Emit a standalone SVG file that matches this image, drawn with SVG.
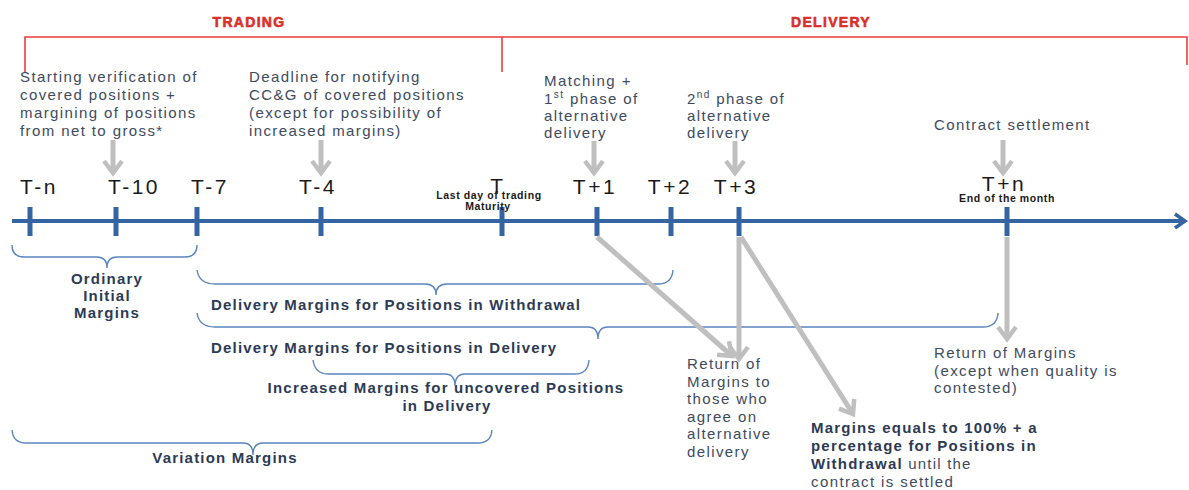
<svg xmlns="http://www.w3.org/2000/svg" width="1189" height="490" viewBox="0 0 1189 490">
<defs>
<style>
.red{stroke:#e8403c;stroke-width:1.6;fill:none}
.phase{font-family:"Liberation Sans",Arial,sans-serif;font-weight:bold;font-size:14px;fill:#d9302a;stroke:#d9302a;stroke-width:0.6;letter-spacing:1.3px;text-anchor:middle}
.body{font-family:"Liberation Sans",Arial,sans-serif;font-size:15px;fill:#3e4a5e;letter-spacing:1.4px}
.bold{font-family:"Liberation Sans",Arial,sans-serif;font-size:15px;font-weight:bold;fill:#2c3a55;letter-spacing:1.2px}
.tick{font-family:"Liberation Sans",Arial,sans-serif;font-size:21px;fill:#1a1a1a;letter-spacing:2.5px;text-anchor:middle}
.small{font-family:"Liberation Sans",Arial,sans-serif;font-size:10.5px;font-weight:bold;fill:#1a1a1a;letter-spacing:0.6px;text-anchor:middle}
.axis{stroke:#3464a2;stroke-width:4;fill:none}
.tk{stroke:#3464a2;stroke-width:5}
.gray{stroke:#bfbfbf;stroke-width:5;fill:none;marker-end:url(#chev)}
.brace{stroke:#5b84bf;stroke-width:1.4;fill:none}
.mid{text-anchor:middle}
</style>
<marker id="chev" viewBox="0 0 22 22" markerUnits="userSpaceOnUse" markerWidth="22" markerHeight="22" refX="18" refY="11" orient="auto">
<path d="M6,2 L18,11 L6,20" fill="none" stroke="#bfbfbf" stroke-width="4.5"/>
</marker>
<marker id="axhead" viewBox="0 0 20 20" markerUnits="userSpaceOnUse" markerWidth="20" markerHeight="20" refX="17" refY="10" orient="auto">
<path d="M7,3 L17,10 L7,17" fill="none" stroke="#3464a2" stroke-width="3.5"/>
</marker>
</defs>

<g id="phases">
<path class="red" d="M25,72 V37 H1187 V65 M502,37 V72"/>
<text class="phase" x="249" y="27">TRADING</text>
<text class="phase" x="831" y="27">DELIVERY</text>
</g>

<g id="timeline">
<path class="axis" d="M12,221 H1185" marker-end="url(#axhead)"/>
<path class="tk" d="M30,207 V236 M116,207 V236 M197,207 V236 M321,207 V236 M502,207 V236 M597,207 V236 M671,207 V236 M739,207 V236 M1007,207 V236"/>
</g>

<g id="tick-labels">
<text class="tick" x="39" y="194">T-n</text>
<text class="tick" x="134" y="194">T-10</text>
<text class="tick" x="210" y="194">T-7</text>
<text class="tick" x="318" y="194">T-4</text>
<text class="tick" x="498" y="193">T</text>
<text class="tick" x="595" y="194">T+1</text>
<text class="tick" x="670" y="194">T+2</text>
<text class="tick" x="736" y="194">T+3</text>
<text class="tick" x="1004" y="191">T+n</text>
<text class="small" x="489" y="199">Last day of trading</text>
<text class="small" x="488" y="210">Maturity</text>
<text class="small" x="1007" y="202">End of the month</text>
</g>

<g id="node-start">
<text class="body" x="20" y="82">Starting verification of</text>
<text class="body" x="20" y="100">covered positions +</text>
<text class="body" x="20" y="118">margining of positions</text>
<text class="body" x="20" y="136">from net to gross*</text>
</g>
<g id="node-deadline">
<text class="body" x="249" y="82">Deadline for notifying</text>
<text class="body" x="249" y="100">CC&amp;G of covered positions</text>
<text class="body" x="249" y="118">(except for possibility of</text>
<text class="body" x="249" y="136">increased margins)</text>
</g>
<g id="node-matching">
<text class="body" x="544" y="86">Matching +</text>
<text class="body" x="544" y="104">1<tspan font-size="10" dy="-6">st</tspan><tspan dy="6"> phase of</tspan></text>
<text class="body" x="544" y="121">alternative</text>
<text class="body" x="544" y="138">delivery</text>
</g>
<g id="node-phase2">
<text class="body" x="687" y="104">2<tspan font-size="10" dy="-6">nd</tspan><tspan dy="6"> phase of</tspan></text>
<text class="body" x="687" y="121">alternative</text>
<text class="body" x="687" y="138">delivery</text>
</g>
<g id="node-settlement">
<text class="body" x="934" y="130">Contract settlement</text>
</g>

<g id="node-ordinary">
<text class="bold mid" x="107" y="284">Ordinary</text>
<text class="bold mid" x="107" y="301">Initial</text>
<text class="bold mid" x="107" y="318">Margins</text>
</g>
<g id="node-withdrawal">
<text class="bold" x="211" y="310">Delivery Margins for Positions in Withdrawal</text>
</g>
<g id="node-delivery">
<text class="bold" x="211" y="353">Delivery Margins for Positions in Delivery</text>
</g>
<g id="node-increased">
<text class="bold mid" x="446" y="393">Increased Margins for uncovered Positions</text>
<text class="bold mid" x="447" y="411">in Delivery</text>
</g>
<g id="node-variation">
<text class="bold mid" x="225" y="463">Variation Margins</text>
</g>

<g id="node-return-alt">
<text class="body" x="687" y="369">Return of</text>
<text class="body" x="687" y="387">Margins to</text>
<text class="body" x="687" y="404">those who</text>
<text class="body" x="687" y="422">agree on</text>
<text class="body" x="687" y="439">alternative</text>
<text class="body" x="687" y="457">delivery</text>
</g>
<g id="node-return">
<text class="body" x="934" y="358">Return of Margins</text>
<text class="body" x="934" y="376">(except when quality is</text>
<text class="body" x="934" y="393">contested)</text>
</g>
<g id="node-margins100">
<text class="bold" x="811" y="433">Margins equals to 100% + a</text>
<text class="bold" x="811" y="451">percentage for Positions in</text>
<text class="bold" x="811" y="469">Withdrawal<tspan font-weight="normal" fill="#3e4a5e"> until the</tspan></text>
<text class="body" x="811" y="487" style="fill:#3e4a5e">contract is settled</text>
</g>

<g id="braces">
<path class="brace" d="M12,245 Q12,257 24,257 H97 Q107,257 107,268 Q107,257 117,257 H185 Q197,257 197,245"/>
<path class="brace" d="M197,270 Q199,284 215,284 H425 Q436,284 436,295 Q436,284 447,284 H658 Q672,284 673,270"/>
<path class="brace" d="M197,313 Q199,327 215,327 H588 Q598,327 598,339 Q598,327 608,327 H983 Q997,327 998,313"/>
<path class="brace" d="M313,360 Q315,374 328,374 H445 Q455,374 455,386 Q455,374 465,374 H575 Q588,374 589,360"/>
<path class="brace" d="M12,430 Q13,443 26,443 H243 Q253,443 253,455 Q253,443 263,443 H478 Q491,443 492,430"/>
</g>

<g id="connectors">
<path class="gray" d="M113,140 V173"/>
<path class="gray" d="M321,140 V173"/>
<path class="gray" d="M594,141 V173"/>
<path class="gray" d="M735,141 V173"/>
<path class="gray" d="M1003,140 V173"/>
<path class="gray" d="M597,237 L732,356"/>
<path class="gray" d="M739,237 V359"/>
<path class="gray" d="M741,237 L853,414"/>
<path class="gray" d="M1007,237 V339"/>
</g>
</svg>
